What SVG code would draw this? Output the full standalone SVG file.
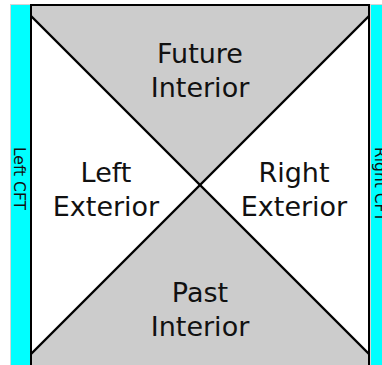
<svg xmlns="http://www.w3.org/2000/svg" width="382" height="365" viewBox="0 0 382 365">
  <style>
    .region-grey { fill: #cccccc; stroke: none; }
    .region-white { fill: #ffffff; stroke: none; }
    .boundary { fill: #00ffff; stroke: #d4d4d4; stroke-width: 1; }
    .edge { stroke: #000000; stroke-width: 2; fill: none; }
    .horizon { stroke: #000000; stroke-width: 2.4; fill: none; stroke-linecap: butt; }
    .label { font-family: "DejaVu Sans", Verdana, sans-serif; font-size: 27px; fill: #111111; text-anchor: middle; }
    .cft { font-family: "DejaVu Sans", Verdana, sans-serif; font-size: 15.5px; fill: #111111; text-anchor: start; }
  </style>

  <rect x="0" y="0" width="382" height="365" fill="#ffffff"/>

  <!-- conformal boundaries -->
  <g id="left-cft">
    <rect class="boundary" x="10.5" y="4.5" width="20" height="362"/>
    <text class="cft" transform="translate(14,147) rotate(90)">Left CFT</text>
  </g>
  <g id="right-cft">
    <rect class="boundary" x="370.5" y="4.5" width="20" height="362"/>
    <text class="cft" transform="translate(374.5,147) rotate(90)">Right CFT</text>
  </g>

  <!-- causal patches -->
  <g id="future-interior">
    <polygon class="region-grey" points="31,5 369,5 369,16 200,185 31,16"/>
    <text class="label" x="200" y="63">Future</text>
    <text class="label" x="200" y="97">Interior</text>
  </g>
  <g id="past-interior">
    <polygon class="region-grey" points="31,354 200,185 369,354 369,367 31,367"/>
    <text class="label" x="200" y="302">Past</text>
    <text class="label" x="200" y="336">Interior</text>
  </g>
  <g id="left-exterior">
    <polygon class="region-white" points="31,16 200,185 31,354"/>
    <text class="label" x="106" y="182">Left</text>
    <text class="label" x="106" y="216">Exterior</text>
  </g>
  <g id="right-exterior">
    <polygon class="region-white" points="369,16 200,185 369,354"/>
    <text class="label" x="294" y="182">Right</text>
    <text class="label" x="294" y="216">Exterior</text>
  </g>

  <!-- frame and horizons -->
  <g id="connectors">
    <line class="edge" x1="30" y1="5" x2="370" y2="5"/>
    <line class="edge" x1="31" y1="4" x2="31" y2="367"/>
    <line class="edge" x1="369" y1="4" x2="369" y2="367"/>
    <line class="horizon" x1="31" y1="16" x2="369" y2="354"/>
    <line class="horizon" x1="369" y1="16" x2="31" y2="354"/>
  </g>
</svg>
